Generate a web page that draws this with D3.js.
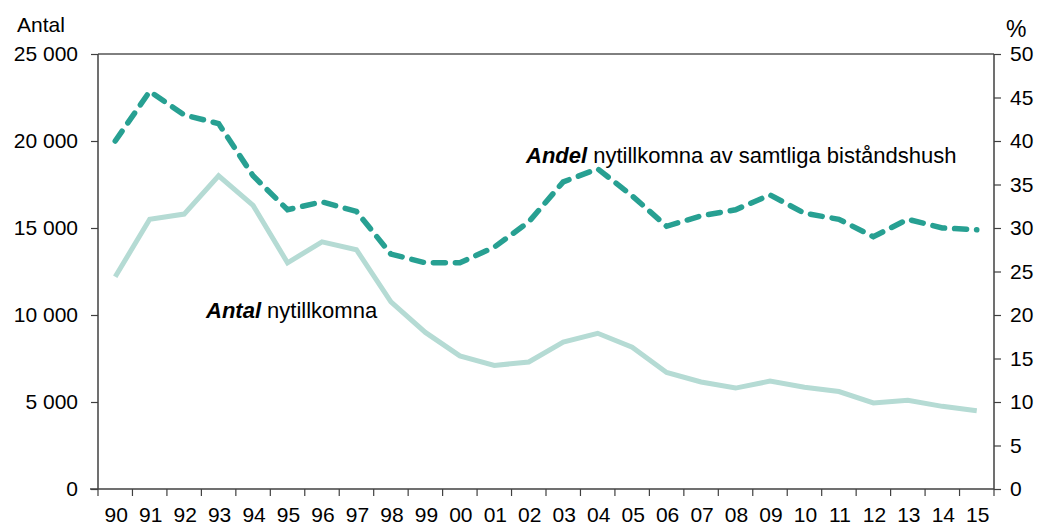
<!DOCTYPE html>
<html>
<head>
<meta charset="utf-8">
<script src="https://cdn.jsdelivr.net/npm/d3@7"></script>
<style>
  html, body { margin: 0; padding: 0; background: #fff; }
  svg { display: block; font-family: "Liberation Sans", Arial, sans-serif; }
</style>
</head>
<body>
<svg id="chart" width="1041" height="525"></svg>
<script>
// Years shown on the x axis (two-digit labels)
const years = ["90","91","92","93","94","95","96","97","98","99","00","01","02","03","04","05","06","07","08","09","10","11","12","13","14","15"];

// Number of newly added households (left axis)
const antal = [12200,15500,15800,18000,16300,13000,14200,13750,10750,9000,7650,7100,7300,8450,8950,8150,6700,6150,5800,6200,5850,5600,4950,5100,4750,4500];

// Share of newly added among all care households, % (right axis)
const andel = [40,45.7,43,42,36,32.1,33,31.9,27,26,26,27.8,30.7,35.3,36.8,33.7,30.2,31.4,32.1,33.8,31.7,31,29,31,30,29.8];

const leftTicks = [0,5000,10000,15000,20000,25000];
const rightTicks = [0,5,10,15,20,25,30,35,40,45,50];

const svg = d3.select("#chart");
const m = { left: 98, right: 994, top: 54, bottom: 489 };

const x = d3.scaleBand().domain(years).range([m.left, m.right]).padding(0);
const yL = d3.scaleLinear().domain([0, 25000]).range([m.bottom, m.top]);
const yR = d3.scaleLinear().domain([0, 50]).range([m.bottom, m.top]);

const fmt = v => d3.format(",")(v).replace(/,/g, " ");
const axisColor = "#404040";
const tickFont = 21;
const labelFont = 22;

// Top frame line
svg.append("line")
  .attr("x1", m.left).attr("x2", m.right)
  .attr("y1", m.top).attr("y2", m.top)
  .attr("stroke", "#000").attr("stroke-width", 1);

// Left axis
const gL = svg.append("g").attr("transform", `translate(${m.left},0)`)
  .call(d3.axisLeft(yL).tickValues(leftTicks).tickFormat(fmt).tickSize(7).tickPadding(13));

// Right axis
const gR = svg.append("g").attr("transform", `translate(${m.right},0)`)
  .call(d3.axisRight(yR).tickValues(rightTicks).tickSize(7).tickPadding(9));

// Bottom axis: ticks at category boundaries, labels centered
const gB = svg.append("g").attr("transform", `translate(0,${m.bottom})`);
gB.append("line").attr("x1", m.left - 8).attr("x2", m.right)
  .attr("stroke", axisColor).attr("stroke-width", 1.5);
const bounds = years.map(d => x(d)).concat([m.right]);
gB.selectAll("line.tick").data(bounds).join("line")
  .attr("class", "tick")
  .attr("x1", d => d).attr("x2", d => d)
  .attr("y1", 0).attr("y2", 7)
  .attr("stroke", axisColor).attr("stroke-width", 1.2);
gB.selectAll("text").data(years).join("text")
  .attr("x", d => x(d) + x.bandwidth() / 2 + 1)
  .attr("y", 33)
  .attr("text-anchor", "middle")
  .attr("font-size", tickFont)
  .attr("fill", "#000")
  .text(d => d);

[gL, gR].forEach(g => {
  g.select(".domain").attr("stroke", axisColor).attr("stroke-width", 1.5);
  g.selectAll(".tick line").attr("stroke", axisColor).attr("stroke-width", 1.2);
  g.selectAll(".tick text").attr("font-size", tickFont).attr("fill", "#000")
    .attr("font-family", "Liberation Sans, Arial, sans-serif");
});
gL.select(".domain").attr("d", `M0,${m.top}V${m.bottom}`);
gR.select(".domain").attr("d", `M0,${m.top}V${m.bottom}`);

// Axis titles
svg.append("text").attr("x", 17).attr("y", 32).attr("font-size", tickFont).text("Antal");
svg.append("text").attr("x", 1006).attr("y", 37).attr("font-size", 23).text("%");

const cx = d => x(d) + x.bandwidth() / 2;

// Count line (light, solid)
svg.append("path")
  .datum(antal)
  .attr("fill", "none")
  .attr("stroke", "#b5dbd4")
  .attr("stroke-width", 5)
  .attr("stroke-linejoin", "miter")
  .attr("d", d3.line().x((d, i) => cx(years[i])).y(d => yL(d)));

// Share line (dark teal, dashed)
svg.append("path")
  .datum(andel)
  .attr("fill", "none")
  .attr("stroke", "#27a092")
  .attr("stroke-width", 5.5)
  .attr("stroke-linecap", "round")
  .attr("stroke-dasharray", "12,10")
  .attr("d", d3.line().x((d, i) => cx(years[i])).y(d => yR(d)));

// Series labels
const l1 = svg.append("text").attr("x", 206).attr("y", 318).attr("font-size", labelFont);
l1.append("tspan").attr("font-weight", "bold").attr("font-style", "italic").text("Antal");
l1.append("tspan").text(" nytillkomna");

const l2 = svg.append("text").attr("x", 526).attr("y", 163).attr("font-size", labelFont);
l2.append("tspan").attr("font-weight", "bold").attr("font-style", "italic").text("Andel");
l2.append("tspan").text(" nytillkomna av samtliga biståndshush");
</script>
</body>
</html>
